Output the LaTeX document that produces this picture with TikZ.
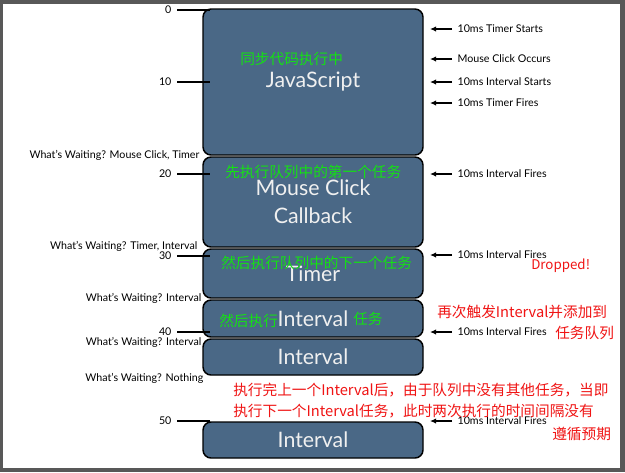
\documentclass[tikz,border=0pt]{standalone}
\usepackage{fontspec}
\setmainfont{Lato}
\newfontfamily\cjk{Noto Sans CJK SC}
\usetikzlibrary{arrows.meta}

\definecolor{blkfill}{RGB}{74,104,134}
\definecolor{framegray}{RGB}{88,88,88}
\definecolor{notegreen}{RGB}{20,225,20}
\definecolor{notered}{RGB}{240,20,20}

\tikzset{
  blk/.style={draw=black, line width=1.1pt, fill=blkfill, rounded corners=6pt,
    minimum width=165pt, inner sep=0pt, text=white!94!black,
    font=\fontsize{16}{21}\selectfont, align=center},
  lbl/.style={font=\fontsize{8}{9}\selectfont, inner sep=1pt},
  tick/.style={line width=1.6pt, shorten <=3pt},
  arr/.style={line width=1.1pt, shorten <=3pt, -{Latex[length=4.5pt,width=4pt]}},
  gnote/.style={font=\cjk\fontsize{11}{13}\selectfont, text=notegreen, inner sep=0pt, anchor=west},
  rnote/.style={font=\cjk\fontsize{11}{16}\selectfont, text=notered, inner sep=0pt, anchor=west, align=left}
}

\begin{document}
\begin{tikzpicture}[x=0.75pt, y=-0.75pt]

% Frame
\fill[framegray] (0,0) rectangle (625,472);
\fill[white] (3,4) rectangle (620,468);

% Blocks
\node[blk, minimum height=109.5pt] (js) at (313,82) {JavaScript};
\node[blk, minimum height=67.5pt] (mc) at (313,202) {Mouse Click\\Callback};
\node[blk, minimum height=36.75pt] (tm) at (313,273.5) {Timer};
\node[blk, minimum height=27.75pt] (iv1) at (313,318.5) {Interval};
\node[blk, minimum height=27pt] (iv2) at (313,357) {Interval};
\node[blk, minimum height=27pt] (iv3) at (313,440) {Interval};

% Time ticks
\coordinate (tk) at (210,0);
\node[lbl, anchor=east] (t0) at (173,10) {0};
\node[lbl, anchor=east] (t10) at (173,82) {10};
\node[lbl, anchor=east] (t20) at (173,174) {20};
\node[lbl, anchor=east] (t30) at (173,256) {30};
\node[lbl, anchor=east] (t40) at (173,332) {40};
\node[lbl, anchor=east] (t50) at (173,421) {50};
\draw[tick] (t0.east) -- (t0.east -| tk);
\draw[tick] (t10.east) -- (t10.east -| tk);
\draw[tick] (t20.east) -- (t20.east -| tk);
\draw[tick] (t30.east) -- (t30.east -| tk);
\draw[tick] (t40.east) -- (t40.east -| tk);
\draw[tick] (t50.east) -- (t50.east -| tk);

% Queue state
\node[lbl, anchor=east] (w1) at (201,155) {What's Waiting? Mouse Click, Timer};
\node[lbl, anchor=east] (w2) at (199,246) {What's Waiting? Timer, Interval};
\node[lbl, anchor=east] (w3) at (203,298) {What's Waiting? Interval};
\node[lbl, anchor=east] (w4) at (203,342) {What's Waiting? Interval};
\node[lbl, anchor=east] (w5) at (205,378) {What's Waiting? Nothing};

% Events
\coordinate (tip) at (430,0);
\node[lbl, anchor=west] (e1) at (456,29) {10ms Timer Starts};
\node[lbl, anchor=west] (e2) at (456,59) {Mouse Click Occurs};
\node[lbl, anchor=west] (e3) at (456,82) {10ms Interval Starts};
\node[lbl, anchor=west] (e4) at (456,103) {10ms Timer Fires};
\node[lbl, anchor=west] (e5) at (456,174) {10ms Interval Fires};
\node[lbl, anchor=west] (e6) at (456,255) {10ms Interval Fires};
\node[lbl, anchor=west] (e7) at (456,332) {10ms Interval Fires};
\node[lbl, anchor=west] (e8) at (456,421) {10ms Interval Fires};
\draw[arr] (e1.west) -- (e1.west -| tip);
\draw[arr] (e2.west) -- (e2.west -| tip);
\draw[arr] (e3.west) -- (e3.west -| tip);
\draw[arr] (e4.west) -- (e4.west -| tip);
\draw[arr] (e5.west) -- (e5.west -| tip);
\draw[arr] (e6.west) -- (e6.west -| tip);
\draw[arr] (e7.west) -- (e7.west -| tip);
\draw[arr] (e8.west) -- (e8.west -| tip);

% Green notes
\node[gnote] (g1) at (240,59) {同步代码执行中};
\node[gnote] (g2) at (225,172) {先执行队列中的第一个任务};
\node[gnote] (g3) at (221,263) {然后执行队列中的下一个任务};
\node[gnote] (g4) at (219,321) {然后执行};
\node[gnote] (g5) at (353,319) {任务};

% Red notes
\node[rnote, font=\cjk\fontsize{10}{12}\selectfont] (drop) at (531,266) {Dropped!};
\node[rnote] (r1) at (437,312) {再次触发Interval并添加到};
\node[rnote] (r2) at (555,333) {任务队列};
\node[rnote] (r3) at (233,400.5) {执行完上一个Interval后，由于队列中没有其他任务，当即\\执行下一个Interval任务，此时两次执行的时间间隔没有};
\node[rnote] (r4) at (552,434) {遵循预期};

\end{tikzpicture}
\end{document}
